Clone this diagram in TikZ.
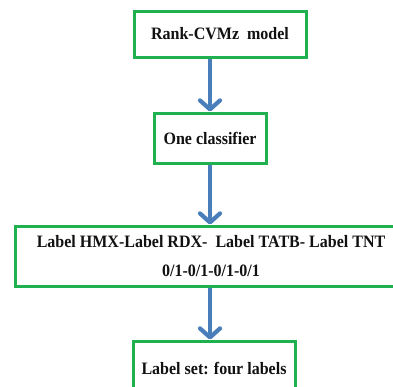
\documentclass[tikz,border=0pt]{standalone}
\usepackage{fontspec}
\setmainfont{Liberation Serif}[BoldFont={Liberation Serif Bold}, BoldFeatures={FakeStretch=0.92}]
\usetikzlibrary{arrows.meta}
\definecolor{boxgreen}{HTML}{1FB050}
\definecolor{arrowblue}{HTML}{4A7EBB}
\definecolor{txt}{HTML}{111111}
\tikzset{
  box/.style={draw=boxgreen, line width=3pt, fill=white, inner sep=0pt,
    text=txt, font=\rmfamily\bfseries\fontsize{17.4}{29.5}\selectfont, align=center},
  flow/.style={draw=arrowblue, line width=4.2pt,
    -{Straight Barb[length=9pt,width=20pt,line cap=round,line join=round]}}
}
\begin{document}
\begin{tikzpicture}[x=1pt,y=-1pt]
\useasboundingbox (0,0) rectangle (393,386);
\node[box, minimum width=172pt, minimum height=46pt] (b1) at (220,34) {Rank-CVMz\ \ model};
\node[box, minimum width=112pt, minimum height=50pt] (b2) at (210,138) {One classifier};
\node[box, minimum width=392pt, minimum height=60pt] (b3) at (211,256) {Label HMX-Label RDX-\ \ Label TATB- Label TNT\\0/1-0/1-0/1-0/1};
\node[box, minimum width=162pt, minimum height=54pt] (b4) at (214,368) {Label set: four labels};
\draw[flow] (b1.south -| b2.north) -- (b2.north);
\draw[flow] (b2.south) -- (b3.north -| b2.south);
\draw[flow] (b3.south -| b2.south) -- (b4.north -| b2.south);
\end{tikzpicture}
\end{document}
